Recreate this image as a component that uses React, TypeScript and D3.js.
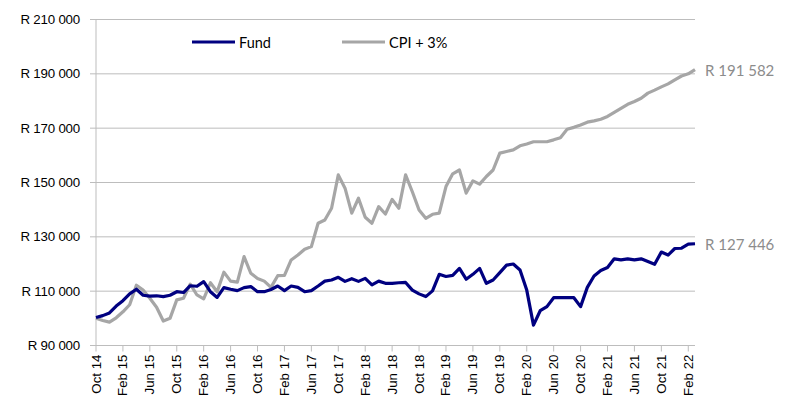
import React from "react";
import * as d3 from "d3";

// Monthly values Oct 2014 .. Mar 2022 (90 months), in Rand
const fundValues = [
  100300, 101000, 102000, 104500, 106500, 109000, 110700, 108500, 108200, 108300,
  108000, 108500, 109800, 109500, 112000, 111800, 113500, 109800, 107700, 111300,
  110700, 110200, 111300, 111700, 109800, 109800, 110600, 111900, 110200, 111900,
  111400, 109800, 110200, 111900, 113700, 114100, 115100, 113600, 114600, 113600,
  114700, 112300, 113700, 112900, 112900, 113100, 113200, 110400, 109000, 108000,
  110100, 116200, 115400, 115800, 118400, 114400, 116200, 118400, 112900, 114100,
  116800, 119600, 120000, 117800, 110400, 97500, 102800, 104300, 107600, 107600,
  107600, 107600, 104300, 111400, 115600, 117600, 118700, 121900, 121500, 121900,
  121500, 121900, 120900, 119900, 124400, 123300, 125700, 125800, 127300, 127446,
];
const cpiValues = [
  100000, 99200, 98600, 100200, 102400, 105000, 112200, 110400, 107400, 104100,
  99000, 100000, 106800, 107400, 112600, 108600, 107200, 113100, 109800, 117000,
  113700, 113300, 122700, 116600, 114700, 113700, 111400, 115700, 115800, 121500,
  123300, 125400, 126400, 135000, 136200, 140500, 152800, 147900, 138700, 144200,
  137200, 135000, 141100, 138400, 143800, 140500, 152800, 146600, 139900, 136800,
  138300, 138700, 148500, 153200, 154600, 146100, 150600, 149400, 152200, 154600,
  160800, 161400, 162000, 163500, 164200, 165000, 165000, 165000, 165700, 166500,
  169600, 170300, 171200, 172200, 172700, 173300, 174300, 175800, 177300, 178800,
  179800, 181000, 182900, 184000, 185200, 186300, 187800, 189200, 190000, 191582,
];
const xTickLabels = [
  "Oct 14", "Feb 15", "Jun 15", "Oct 15", "Feb 16", "Jun 16", "Oct 16", "Feb 17",
  "Jun 17", "Oct 17", "Feb 18", "Jun 18", "Oct 18", "Feb 19", "Jun 19", "Oct 19",
  "Feb 20", "Jun 20", "Oct 20", "Feb 21", "Jun 21", "Oct 21", "Feb 22",
];
const yTicks = [90000, 110000, 130000, 150000, 170000, 190000, 210000];
const seriesNames = ["Fund", "CPI + 3%"];
const endLabels = ["R 127 446", "R 191 582"];

const W = 787;
const H = 401;
const left = 96;
const right = 695;
const top = 19.5;
const bottom = 345.5;
const NAVY = "#000080";
const GREY = "#A6A6A6";
const GRID = "#BDBDBD";
const AXIS_FONT = "Liberation Sans, Arial, sans-serif";
const LEG_FONT = "Lato, Open Sans, sans-serif";

const fmtR = (v: number) => "R " + d3.format(",")(v).replace(/,/g, " ");

export default function App() {
  const x = d3.scaleLinear().domain([0, fundValues.length - 1]).range([left, right]);
  const y = d3.scaleLinear().domain([90000, 210000]).range([bottom, top]);
  const line = d3
    .line<number>()
    .x((_, i) => x(i))
    .y((d) => y(d));

  return (
    <svg
      width={W}
      height={H}
      style={{ position: "absolute", left: 0, top: 0, background: "#fff" }}
    >
      {yTicks.map((t) => (
        <g key={t}>
          {t > 90000 && (
            <line x1={left} x2={right} y1={y(t)} y2={y(t)} stroke={GRID} strokeWidth={1} />
          )}
          <line x1={left - 6} x2={left} y1={y(t)} y2={y(t)} stroke={GRID} strokeWidth={1} />
          <text
            x={80}
            y={y(t)}
            textAnchor="end"
            dominantBaseline="central"
            fontFamily={AXIS_FONT}
            fontSize={13.3}
            letterSpacing={-0.2}
            fill="#000"
          >
            {fmtR(t)}
          </text>
        </g>
      ))}
      <line x1={left} x2={left} y1={top} y2={bottom} stroke={GRID} strokeWidth={1} />
      <line x1={left} x2={right} y1={bottom} y2={bottom} stroke={GRID} strokeWidth={1} />
      {xTickLabels.map((lab, k) => {
        const xi = x(k * 4);
        return (
          <g key={lab}>
            <line x1={xi} x2={xi} y1={bottom} y2={bottom + 6} stroke={GRID} strokeWidth={1} />
            <text
              transform={`translate(${xi},${bottom + 9}) rotate(-90)`}
              textAnchor="end"
              dominantBaseline="central"
              fontFamily={AXIS_FONT}
              fontSize={13.3}
              fill="#000"
            >
              {lab}
            </text>
          </g>
        );
      })}
      <path d={line(cpiValues) || ""} fill="none" stroke={GREY} strokeWidth={3.2} strokeLinejoin="round" />
      <path d={line(fundValues) || ""} fill="none" stroke={NAVY} strokeWidth={3.2} strokeLinejoin="round" />
      <text
        x={right + 10}
        y={y(cpiValues[cpiValues.length - 1])}
        dominantBaseline="central"
        fontFamily={LEG_FONT}
        fontSize={15}
        fill="#8C8C8C"
      >
        {endLabels[1]}
      </text>
      <text
        x={right + 10}
        y={y(fundValues[fundValues.length - 1])}
        dominantBaseline="central"
        fontFamily={LEG_FONT}
        fontSize={15}
        fill="#8C8C8C"
      >
        {endLabels[0]}
      </text>
      <line x1={192} x2={235} y1={42} y2={42} stroke={NAVY} strokeWidth={3} />
      <text x={239} y={42} dominantBaseline="central" fontFamily={LEG_FONT} fontSize={14.5} fill="#000">
        {seriesNames[0]}
      </text>
      <line x1={342} x2={385} y1={42} y2={42} stroke={GREY} strokeWidth={3} />
      <text x={389} y={42} dominantBaseline="central" fontFamily={LEG_FONT} fontSize={14.5} fill="#000">
        {seriesNames[1]}
      </text>
    </svg>
  );
}
